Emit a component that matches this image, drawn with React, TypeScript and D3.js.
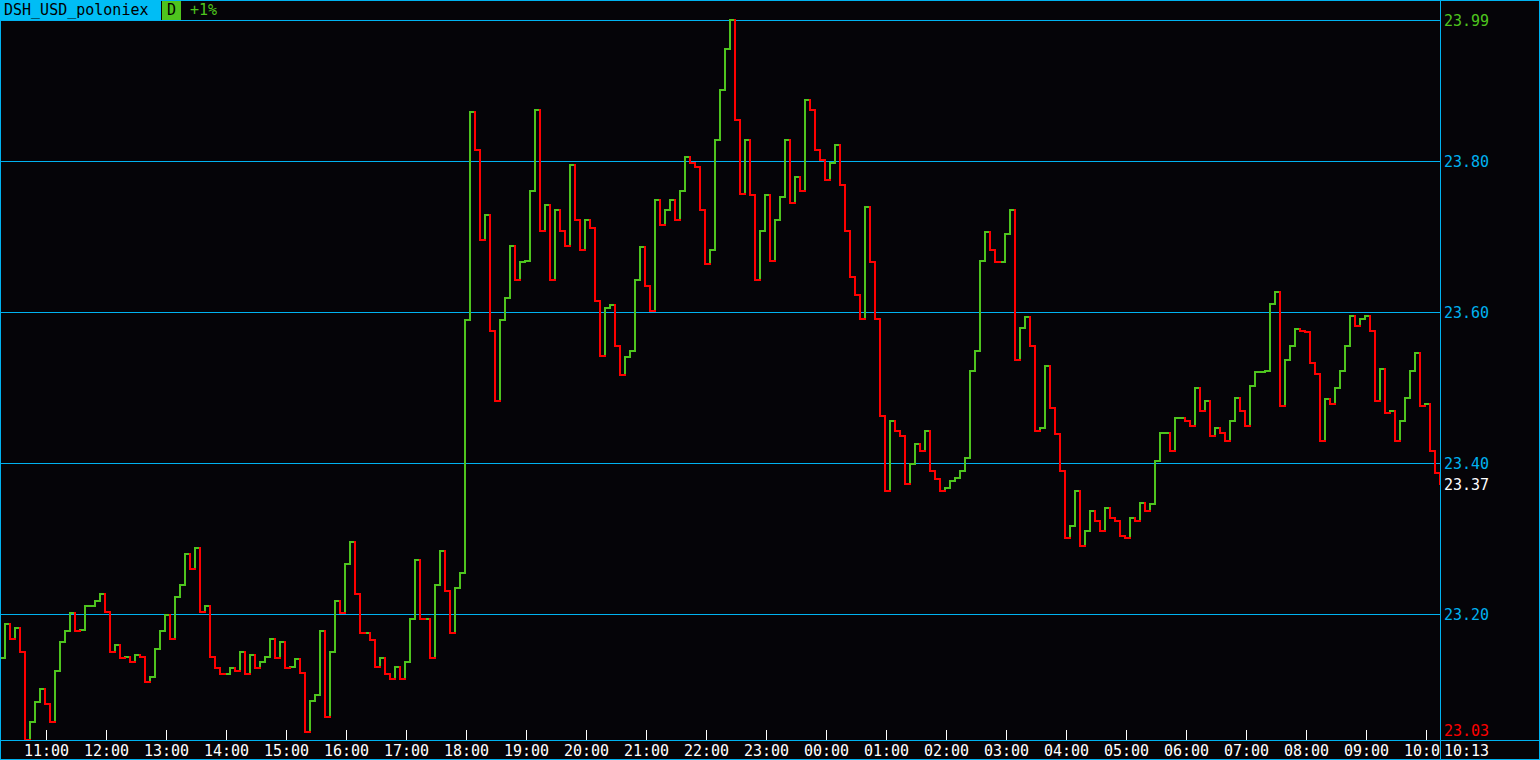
import React from "react";
import * as d3 from "d3";

// ---- data ----
const symbol = "DSH_USD_poloniex";
const periodLabel = "D";
const startTime = "2018-01-15T10:14:00";
const stepMinutes = 5;
const endTimeLabel = "10:13";

const prices: number[] = [
  // 10:14 – 15:00
  23.141, 23.187, 23.167, 23.181, 23.150, 23.033, 23.057, 23.084, 23.101, 23.081,
  23.057, 23.124, 23.163, 23.177, 23.201, 23.177, 23.179, 23.210, 23.210, 23.217,
  23.227, 23.203, 23.150, 23.159, 23.141, 23.143, 23.137, 23.146, 23.143, 23.110,
  23.117, 23.154, 23.177, 23.199, 23.167, 23.223, 23.239, 23.279, 23.260, 23.287,
  23.203, 23.210, 23.143, 23.128, 23.121, 23.121, 23.128, 23.124, 23.150, 23.121,
  23.146, 23.128, 23.137, 23.143, 23.167, 23.141, 23.163, 23.128,
  // 15:04 – 19:49
  23.130, 23.140, 23.122, 23.044, 23.085, 23.092, 23.177, 23.064, 23.150, 23.217,
  23.201, 23.266, 23.296, 23.226, 23.175, 23.175, 23.165, 23.130, 23.142, 23.120,
  23.114, 23.130, 23.114, 23.137, 23.193, 23.271, 23.193, 23.193, 23.142, 23.238,
  23.283, 23.230, 23.175, 23.235, 23.254, 23.589, 23.865, 23.815, 23.695, 23.728,
  23.575, 23.482, 23.589, 23.618, 23.688, 23.642, 23.666, 23.668, 23.761, 23.868,
  23.708, 23.742, 23.642, 23.735, 23.708, 23.688, 23.795, 23.722,
  // 19:54 – 00:39
  23.682, 23.722, 23.711, 23.615, 23.542, 23.606, 23.609, 23.555, 23.516, 23.540,
  23.549, 23.642, 23.686, 23.635, 23.602, 23.748, 23.715, 23.735, 23.748, 23.722,
  23.761, 23.805, 23.797, 23.792, 23.735, 23.664, 23.682, 23.828, 23.894, 23.948,
  23.987, 23.855, 23.757, 23.828, 23.755, 23.642, 23.708, 23.755, 23.668, 23.722,
  23.752, 23.828, 23.744, 23.779, 23.761, 23.881, 23.868, 23.815, 23.801, 23.775,
  23.797, 23.821, 23.768, 23.708, 23.646, 23.622, 23.591, 23.739,
  // 00:44 – 05:29
  23.666, 23.591, 23.462, 23.363, 23.456, 23.442, 23.436, 23.372, 23.399, 23.425,
  23.416, 23.442, 23.389, 23.379, 23.363, 23.367, 23.376, 23.380, 23.389, 23.407,
  23.522, 23.549, 23.668, 23.706, 23.682, 23.666, 23.666, 23.704, 23.735, 23.536,
  23.579, 23.593, 23.555, 23.442, 23.446, 23.529, 23.473, 23.439, 23.389, 23.300,
  23.316, 23.363, 23.290, 23.310, 23.336, 23.323, 23.310, 23.340, 23.327, 23.323,
  23.303, 23.300, 23.327, 23.323, 23.347, 23.336, 23.346, 23.403,
  // 05:34 – 10:14
  23.440, 23.440, 23.416, 23.460, 23.460, 23.456, 23.449, 23.500, 23.469, 23.482,
  23.436, 23.446, 23.440, 23.429, 23.456, 23.486, 23.469, 23.449, 23.502, 23.520,
  23.520, 23.522, 23.611, 23.626, 23.476, 23.536, 23.555, 23.578, 23.575, 23.573,
  23.533, 23.518, 23.429, 23.485, 23.478, 23.500, 23.522, 23.555, 23.595, 23.582,
  23.591, 23.595, 23.575, 23.482, 23.525, 23.466, 23.469, 23.429, 23.456, 23.486,
  23.522, 23.546, 23.476, 23.478, 23.416, 23.387, 23.372,
];

const gridValues: number[] = [23.2, 23.4, 23.6, 23.8];

// ---- layout / style ----
const W = 1540;
const H = 760;
const plotRight = 1440;
const plotTop = 20;
const plotBottom = 740;
const BG = "#050408";
const CYAN = "#00b2f0";
const HEAD = "#00bdf5";
const GREEN = "#4ec41e";
const RED = "#ff0000";
const WHITE = "#ffffff";
const FONT = "'DejaVu Sans Mono', 'Liberation Mono', monospace";

export default function App() {
  const t0 = new Date(startTime);
  const times = prices.map((_, i) => d3.timeMinute.offset(t0, i * stepMinutes));
  const x = d3
    .scaleTime()
    .domain([times[0], times[times.length - 1]])
    .range([0, plotRight]);
  const [lo, hi] = d3.extent(prices) as [number, number];
  const y = d3.scaleLinear().domain([lo, hi]).range([plotBottom, plotTop]);

  const n = prices.length;
  let greenD = "";
  let redD = "";
  const X = (i: number) => Math.round(x(times[i]));
  const Y = (v: number) => Math.round(y(v));
  greenD += `M${X(0)},${Y(prices[0])}H${X(1)}`;
  for (let i = 1; i < n; i++) {
    const xi = X(i);
    const xn = i < n - 1 ? X(i + 1) : xi;
    const seg = `M${xi},${Y(prices[i - 1])}V${Y(prices[i])}H${xn}`;
    if (prices[i] >= prices[i - 1]) greenD += seg;
    else redD += seg;
  }

  const hourTicks = x.ticks(d3.timeHour.every(1) as any);
  const fmtT = d3.timeFormat("%H:%M");
  const fmtP = d3.format(".2f");
  const last = prices[n - 1];
  const pct = (last - prices[0]) / prices[0];
  const pctLabel = d3.format("+.0%")(pct);

  const labelX = plotRight + 4;

  return (
    <svg
      width={W}
      height={H}
      style={{ position: "absolute", left: 0, top: 0, display: "block", background: BG }}
      fontFamily={FONT}
    >
      <defs>
        <clipPath id="plotClip">
          <rect x={0} y={0} width={plotRight} height={H} />
        </clipPath>
      </defs>
      <rect x={0} y={0} width={W} height={H} fill={BG} />

      {/* grid lines */}
      {gridValues.map((v) => (
        <line
          key={v}
          x1={0}
          x2={plotRight}
          y1={Math.round(y(v)) + 0.5}
          y2={Math.round(y(v)) + 0.5}
          stroke={CYAN}
          strokeWidth={1}
        />
      ))}
      <line x1={0} x2={plotRight} y1={plotTop + 0.5} y2={plotTop + 0.5} stroke={CYAN} />

      {/* price line */}
      <g clipPath="url(#plotClip)" shapeRendering="crispEdges">
        <path d={greenD} fill="none" stroke={GREEN} strokeWidth={2} strokeLinecap="square" />
        <path d={redD} fill="none" stroke={RED} strokeWidth={2} strokeLinecap="square" />
      </g>

      {/* x ticks and labels */}
      <g clipPath="url(#plotClip)">
        {hourTicks.map((t) => {
          const xx = Math.round(x(t)) + 0.5;
          return (
            <g key={+t}>
              <line x1={xx} x2={xx} y1={plotBottom - 10} y2={plotBottom} stroke={WHITE} />
              <text x={xx} y={756} fill={WHITE} fontSize={15} textAnchor="middle">
                {fmtT(t)}
              </text>
            </g>
          );
        })}
      </g>
      <text x={labelX} y={756} fill={WHITE} fontSize={15}>
        {endTimeLabel}
      </text>

      {/* axes lines */}
      <line x1={0} x2={W} y1={plotBottom + 0.5} y2={plotBottom + 0.5} stroke={CYAN} />
      <line x1={plotRight + 0.5} x2={plotRight + 0.5} y1={0} y2={H} stroke={CYAN} />
      <rect x={0.5} y={0.5} width={W - 1} height={H - 1} fill="none" stroke={CYAN} />

      {/* y labels */}
      {gridValues.map((v) => (
        <text key={v} x={labelX} y={Math.round(y(v)) + 5.5} fill={CYAN} fontSize={15}>
          {fmtP(v)}
        </text>
      ))}
      <text x={labelX} y={plotTop + 5.5} fill={GREEN} fontSize={15}>
        {fmtP(hi)}
      </text>
      <text x={labelX} y={Math.min(y(lo), plotBottom - 10) + 5.5} fill={RED} fontSize={15}>
        {fmtP(lo)}
      </text>
      <text x={labelX} y={Math.round(y(last)) + 5.5} fill={WHITE} fontSize={15}>
        {fmtP(last)}
      </text>

      {/* header */}
      <rect x={0} y={0} width={161} height={20} fill={HEAD} />
      <text x={4} y={15} fill="#000" fontSize={15}>
        {symbol}
      </text>
      <rect x={162} y={1} width={19} height={19} fill={GREEN} />
      <text x={167} y={15} fill="#000" fontSize={15}>
        {periodLabel}
      </text>
      <text x={190} y={15} fill={GREEN} fontSize={15}>
        {pctLabel}
      </text>
    </svg>
  );
}
